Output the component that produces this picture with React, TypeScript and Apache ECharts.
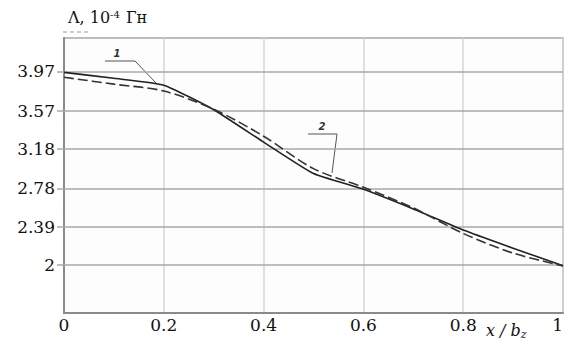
import React, { useEffect, useRef } from "react";
import * as echarts from "echarts";

const xValues = [0, 0.1, 0.2, 0.3, 0.4, 0.5, 0.6, 0.7, 0.8, 0.9, 1.0];
const curve1 = [3.96, 3.9, 3.83, 3.58, 3.25, 2.93, 2.77, 2.57, 2.355, 2.17, 1.99];
const curve2 = [3.91, 3.84, 3.77, 3.585, 3.31, 2.98, 2.79, 2.58, 2.32, 2.12, 1.99];
const yTicks = [2, 2.39, 2.78, 3.18, 3.57, 3.97];

const FONT = "DejaVu Serif";

export default function App() {
  const ref = useRef<HTMLDivElement>(null);
  useEffect(() => {
    if (!ref.current) return;
    const chart = echarts.init(ref.current, null, { renderer: "svg" });
    const option: any = {
      animation: false,
      backgroundColor: "#ffffff",
      textStyle: { fontFamily: FONT },
      grid: {
        left: 64,
        right: 11,
        top: 38,
        bottom: 37,
        show: true,
        borderColor: "#a8a8a8",
        borderWidth: 1.5,
        backgroundColor: "#fdfdfd",
      },
      xAxis: {
        type: "value",
        min: 0,
        max: 1,
        interval: 0.2,
        axisLine: { show: true, lineStyle: { color: "#8a8a8a", width: 2 } },
        axisTick: { show: false },
        splitLine: { show: true, lineStyle: { color: "#d6d6d6", width: 1.5 } },
        axisLabel: {
          color: "#111",
          fontFamily: FONT,
          fontSize: 17,
          margin: 3,
          alignMaxLabel: "right",
        },
      },
      yAxis: {
        type: "value",
        min: 1.51,
        max: 4.31,
        axisLine: { show: true, lineStyle: { color: "#8a8a8a", width: 2 } },
        axisTick: {
          show: true,
          length: 7,
          customValues: yTicks,
          lineStyle: { color: "#a8a8a8", width: 1.5 },
        },
        splitLine: { show: false },
        axisLabel: {
          customValues: yTicks,
          color: "#111",
          fontFamily: FONT,
          fontSize: 17,
          margin: 9,
          formatter: (v: number) => String(v),
        },
      },
      series: [
        {
          type: "line",
          name: "1",
          data: xValues.map((x, i) => [x, curve1[i]]),
          showSymbol: false,
          smooth: 0.15,
          lineStyle: { color: "#222", width: 1.6, type: "solid" },
          z: 3,
          markLine: {
            silent: true,
            symbol: "none",
            label: { show: false },
            lineStyle: { color: "#a8a8a8", width: 1.5, type: "solid" },
            data: yTicks.map((v) => ({ yAxis: v })),
            z: 1,
          },
        },
        {
          type: "line",
          name: "2",
          data: xValues.map((x, i) => [x, curve2[i]]),
          showSymbol: false,
          smooth: 0.3,
          lineStyle: { color: "#333", width: 1.6, type: [10, 4] },
          z: 4,
        },
      ],
      graphic: [
        {
          type: "text",
          left: 68,
          top: 9,
          style: {
            text: "{a|Λ, 10}{s|-4}{a| Гн}",
            rich: {
              a: { fontFamily: FONT, fontSize: 16, fill: "#111" },
              s: { fontFamily: FONT, fontSize: 10, fill: "#111", verticalAlign: "top", padding: [0, 1, 7, 0] },
            },
          },
        },
        {
          type: "line",
          shape: { x1: 63, y1: 32, x2: 90, y2: 32 },
          style: { stroke: "#999", lineWidth: 1, lineDash: [4, 3] },
        },
        {
          type: "text",
          left: 486,
          top: 322,
          style: {
            text: "{i|x / b}{s|z}",
            rich: {
              i: { fontFamily: FONT, fontStyle: "italic", fontSize: 16, fill: "#111" },
              s: { fontFamily: FONT, fontStyle: "italic", fontSize: 11, fill: "#111", verticalAlign: "bottom", padding: [8, 0, 0, 0] },
            },
          },
        },
        {
          type: "polyline",
          shape: { points: [[105, 61], [135, 61], [157, 84]] },
          style: { stroke: "#555", lineWidth: 1, fill: "none" },
        },
        {
          type: "text",
          x: 117,
          y: 53,
          style: {
            text: "1",
            fontFamily: "DejaVu Sans",
            fontStyle: "italic",
            fontWeight: "bold",
            fontSize: 10,
            fill: "#333",
            align: "center",
            verticalAlign: "middle",
          },
        },
        {
          type: "polyline",
          shape: { points: [[308, 134], [337, 134], [332, 173]] },
          style: { stroke: "#555", lineWidth: 1, fill: "none" },
        },
        {
          type: "text",
          x: 322,
          y: 126,
          style: {
            text: "2",
            fontFamily: "DejaVu Sans",
            fontStyle: "italic",
            fontWeight: "bold",
            fontSize: 10,
            fill: "#333",
            align: "center",
            verticalAlign: "middle",
          },
        },
      ],
    };
    chart.setOption(option);
    return () => chart.dispose();
  }, []);
  return (
    <div
      ref={ref}
      style={{ position: "absolute", left: 0, top: 0, width: 574, height: 350, background: "#fff" }}
    />
  );
}
